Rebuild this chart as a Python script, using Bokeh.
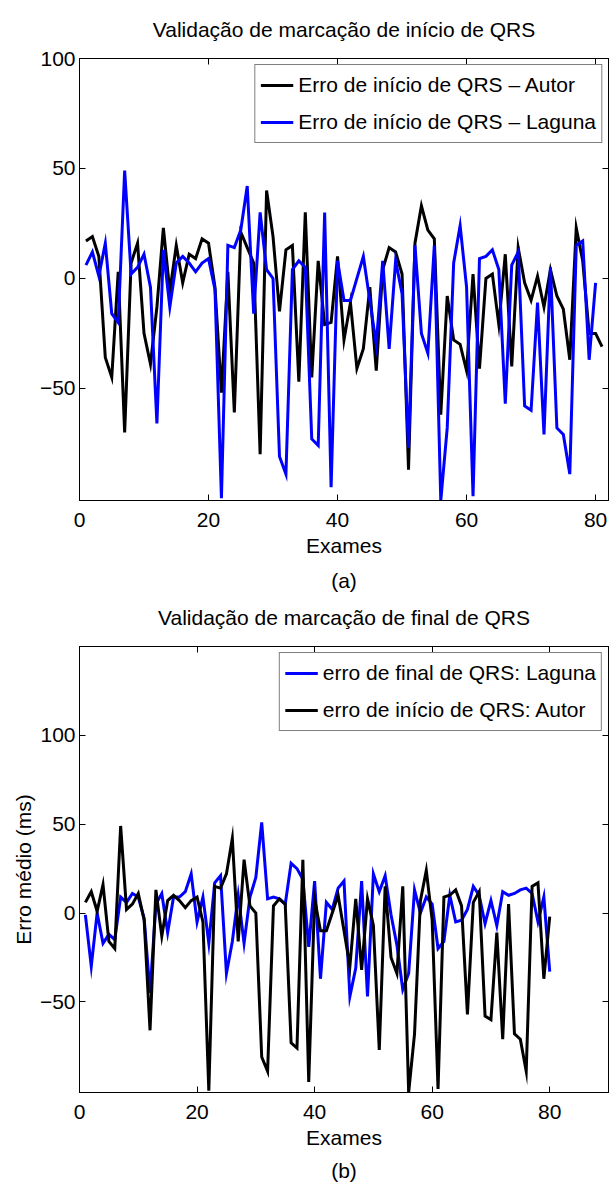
from bokeh.plotting import figure
from bokeh.models import Range1d, FixedTicker, LinearAxis, Legend, LegendItem, Title
from bokeh.layouts import column
from bokeh.embed import file_html
from bokeh.resources import INLINE

FONT = "Liberation Sans"
FS = "21px"

# ---- (a) QRS onset errors ----
exames_autor = list(range(1, 82))
inicio_autor = [17, 19, 10, -36, -45, 3, -70, 7, 16, -25,
                -39, -13, 23, -6, 15, -2, 11, 9, 18, 16,
                -4, -52, 3, -61, 21, 14, 7, -80, 40, 19,
                -15, 13, 15, -47, 30, -45, 8, -21, -20, 10,
                -28, -11, -41, -32, -4, -42, 4, 14, 12, 2,
                -87, 16, 33, 22, 18, -62, -8, -28, -30, -42,
                2, -41, 0, 2, -21, 11, -40, 14, -2, -10,
                1, -13, 4, -8, -14, -37, 23, 8, -25, -25,
                -31]

exames_laguna = list(range(1, 81))
inicio_laguna = [6, 12, 1, 16, -16, -20, 49, 2, 5, 11,
                 -4, -66, 13, -13, 7, 10, 7, 3, 7, 9,
                 -5, -100, 15, 14, 22, 42, -16, 30, 4, 0,
                 -81, -89, 4, 8, 5, -73, -76, 30, -95, 8,
                 -10, -10, 0, 10, -10, -30, 8, -32, 8, -7,
                 -77, 15, -25, -34, 15, -101, -68, 7, 24, -4,
                 -99, 9, 10, 13, 4, -57, 6, 12, -58, -60,
                 -11, -71, 5, -68, -71, -89, 15, 17, -37, -2]

# ---- (b) QRS offset errors ----
final_laguna = [-1, -30, 0, -17, -12, -15, 9, 6, 11, 9,
                -3, -45, 5, 11, -11, 9, 9, 12, 22, -5,
                9, -17, 17, 21, -34, -16, 10, -17, 9, 20,
                51, 8, 9, 8, 5, 28, 25, 19, -19, 18,
                -37, 6, 2, 14, 18, -47, -31, 18, -47, 22,
                12, 21, -1, -18, -43, -34, 13, 0, 9, 5,
                -20, -16, 10, -5, -4, 2, 15, 10, -6, 7,
                -7, 12, 10, 11, 13, 14, 11, -5, 9, -33]

x_ticks = [0, 20, 40, 60, 80]
y_ticks = [-50, 0, 50, 100]

BLUE = "#0000ff"
BLACK = "#000000"


def style_axis(ax, standoff, show_labels=True):
    ax.minor_tick_line_color = None
    ax.major_tick_in = 6
    ax.major_tick_out = 0
    ax.axis_line_color = BLACK
    ax.major_tick_line_color = BLACK
    ax.major_label_text_font = FONT
    ax.major_label_text_color = BLACK
    ax.major_label_text_font_size = FS if show_labels else "0px"
    ax.major_label_standoff = standoff
    ax.axis_label_text_font = FONT
    ax.axis_label_text_font_size = FS
    ax.axis_label_text_font_style = "normal"
    ax.axis_label_text_color = BLACK


def panel(title, tag, tag_gap, x_end, y_end, height, top, bottom, ylabel=None):
    p = figure(width=610, height=height, output_backend="svg", toolbar_location=None,
               x_range=Range1d(0, x_end), y_range=Range1d(-101, y_end),
               min_border_left=79, min_border_right=2,
               min_border_top=top, min_border_bottom=bottom)
    p.grid.visible = False
    p.outline_line_color = BLACK
    p.outline_line_width = 1
    p.background_fill_color = "white"
    p.border_fill_color = "white"

    p.xaxis.ticker = FixedTicker(ticks=x_ticks)
    p.yaxis.ticker = FixedTicker(ticks=y_ticks)
    style_axis(p.xaxis[0], 12)
    style_axis(p.yaxis[0], 4)
    p.xaxis.axis_label = "Exames"
    p.xaxis.axis_label_standoff = 4
    if ylabel:
        p.yaxis.axis_label = ylabel
        p.yaxis.axis_label_standoff = 2

    # box ticks on the top and right edges; the top axis carries the panel title
    top_ax = LinearAxis(ticker=FixedTicker(ticks=x_ticks))
    right_ax = LinearAxis(ticker=FixedTicker(ticks=y_ticks))
    for ax in (top_ax, right_ax):
        style_axis(ax, 0, show_labels=False)
        ax.major_label_text_alpha = 0
    top_ax.axis_label = title
    top_ax.axis_label_standoff = 18
    p.add_layout(top_ax, "above")
    p.add_layout(right_ax, "right")

    p.add_layout(Title(text=tag, align="center", text_font=FONT, text_font_size=FS,
                       text_font_style="normal", text_color=BLACK, standoff=tag_gap), "below")
    return p


def add_legend(p, items):
    leg = Legend(items=[LegendItem(label=lab, renderers=[r]) for lab, r in items],
                 location="top_right", margin=6, padding=5, spacing=7,
                 glyph_width=33, glyph_height=30, label_height=30, label_standoff=5,
                 label_text_font=FONT, label_text_font_size=FS, label_text_color=BLACK,
                 border_line_color=BLACK, border_line_width=1,
                 background_fill_color="white", background_fill_alpha=1)
    p.add_layout(leg)


# (a)
pa = panel("Validação de marcação de início de QRS", "(a)", 14, 82, 100, 601, 58, 101)
ra1 = pa.line(exames_autor, inicio_autor, line_color=BLACK, line_width=3, line_join="miter")
ra2 = pa.line(exames_laguna, inicio_laguna, line_color=BLUE, line_width=3, line_join="miter")
add_legend(pa, [("Erro de início de QRS – Autor", ra1),
                ("Erro de início de QRS – Laguna", ra2)])

# (b)
pb = panel("Validação de marcação de final de QRS", "(b)", 10, 90, 150, 589, 45, 98,
           ylabel="Erro médio (ms)")
rb1 = pb.line(exames_laguna, final_laguna, line_color=BLUE, line_width=3, line_join="miter")
rb2 = pb.line(exames_laguna, inicio_laguna, line_color=BLACK, line_width=3, line_join="miter")
add_legend(pb, [("erro de final de QRS: Laguna", rb1),
                ("erro de início de QRS: Autor", rb2)])

layout = column(pa, pb, spacing=0)
open("out.html", "w").write(file_html(layout, INLINE))
